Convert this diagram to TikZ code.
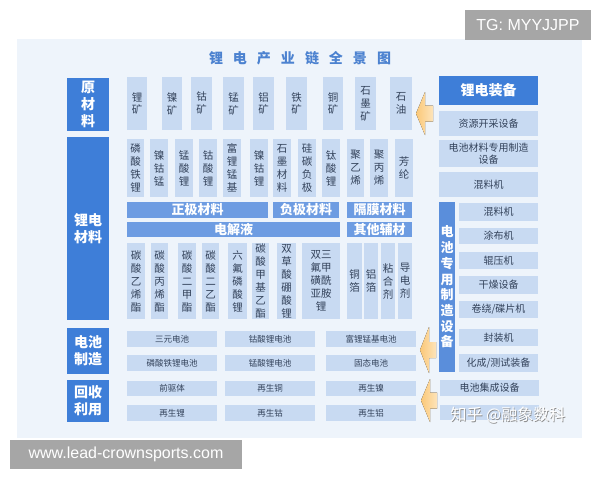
\documentclass[tikz,border=0pt]{standalone}
\usepackage{fontspec}
\setmainfont{Noto Sans CJK SC}
\newfontfamily\latf{Liberation Sans}
\definecolor{panel}{HTML}{EEF4FB}
\definecolor{dkb}{HTML}{3E7ED8}
\definecolor{mdb}{HTML}{6D9CE2}
\definecolor{vtb}{HTML}{5A8EDB}
\definecolor{ltb}{HTML}{C8DAF2}
\definecolor{txt}{HTML}{33425A}
\definecolor{ttl}{HTML}{4C82D0}
\definecolor{grayb}{HTML}{A6A6A6}
\definecolor{arr}{HTML}{FBC878}
\definecolor{arrl}{HTML}{FDE4BA}
\newcommand\bx[7]{\node[#5, minimum width={(#3-#1)*1pt}, minimum height={(#4-#2)*1pt}] (#7) at ({(#1+#3)/2},{(#2+#4)/2}) {#6};}
\newcommand\larrow[4]{\fill[left color=arr, right color=arrl] (#1,{(#3+#4)/2}) -- ({#1+9},#3) -- ({#1+9},{(#3+#4)/2-8}) -- (#2,{(#3+#4)/2-8}) -- (#2,{(#3+#4)/2+8}) -- ({#1+9},{(#3+#4)/2+8}) -- ({#1+9},#4) -- cycle;}
\tikzset{
 base/.style={inner sep=0pt, outer sep=0pt, align=center, rectangle},
 dark/.style={base, fill=dkb, text=white, font=\bfseries\fontsize{14}{17}\selectfont},
 lite/.style={base, fill=ltb, text=txt, font=\fontsize{10.5}{13}\selectfont},
 liteh/.style={base, fill=ltb, text=txt, font=\fontsize{10}{12.5}\selectfont},
 lites/.style={base, fill=ltb, text=txt, font=\fontsize{8.5}{10}\selectfont},
 bar/.style={base, fill=mdb, text=white, font=\bfseries\fontsize{13}{15}\selectfont},
 vbar/.style={base, fill=vtb, text=white, font=\bfseries\fontsize{13}{15.7}\selectfont},
 grey/.style={base, fill=grayb, text=white, font=\latf\fontsize{16}{18}\selectfont},
}
\begin{document}
\begin{tikzpicture}[x=1pt,y=-1pt]
\useasboundingbox (0,0) rectangle (600,480);
\fill[white] (0,0) rectangle (600,480);
\fill[panel] (17,39) rectangle (582,438);
\node[base, text=ttl, font=\bfseries\fontsize{14}{16}\selectfont] (title) at (300,58) {锂\hspace{10pt}电\hspace{10pt}产\hspace{10pt}业\hspace{10pt}链\hspace{10pt}全\hspace{10pt}景\hspace{10pt}图};
% left categories
\bx{67}{78}{109}{131}{dark}{原\\材\\料}{c1}
\bx{67}{137}{109}{320}{dark}{锂电\\材料}{c2}
\bx{67}{328}{109}{374}{dark}{电池\\制造}{c3}
\bx{67}{380}{109}{422}{dark}{回收\\利用}{c4}
% raw materials
\bx{127}{77}{147}{130}{lite}{锂\\矿}{r1}
\bx{162}{77}{182}{130}{lite}{镍\\矿}{r2}
\bx{191}{77}{212}{130}{lite}{钴\\矿}{r3}
\bx{223}{77}{244}{130}{lite}{锰\\矿}{r4}
\bx{253}{77}{274}{130}{lite}{铝\\矿}{r5}
\bx{286}{77}{307}{130}{lite}{铁\\矿}{r6}
\bx{323}{77}{343}{130}{lite}{铜\\矿}{r7}
\bx{355}{77}{376}{130}{lite}{石\\墨\\矿}{r8}
\bx{390}{77}{412}{130}{lite}{石\\油}{r9}
% materials row
\bx{127}{139}{144}{197}{lite}{磷\\酸\\铁\\锂}{m1}
\bx{150}{139}{168}{197}{lite}{镍\\钴\\锰}{m2}
\bx{175}{139}{193}{197}{lite}{锰\\酸\\锂}{m3}
\bx{199}{139}{217}{197}{lite}{钴\\酸\\锂}{m4}
\bx{223}{139}{241}{197}{lite}{富\\锂\\锰\\基}{m5}
\bx{250}{139}{268}{197}{lite}{镍\\钴\\锂}{m6}
\bx{273}{139}{291}{197}{lite}{石\\墨\\材\\料}{m7}
\bx{298}{139}{316}{197}{lite}{硅\\碳\\负\\极}{m8}
\bx{322}{139}{340}{197}{lite}{钛\\酸\\锂}{m9}
\bx{347}{139}{364}{197}{lite}{聚\\乙\\烯}{m10}
\bx{370}{139}{388}{197}{lite}{聚\\丙\\烯}{m11}
\bx{395}{139}{413}{197}{lite}{芳\\纶}{m12}
% bars
\bx{127}{202}{268}{218}{bar}{正极材料}{b1}
\bx{273}{202}{339}{218}{bar}{负极材料}{b2}
\bx{347}{202}{412}{218}{bar}{隔膜材料}{b3}
\bx{127}{222}{340}{237}{bar}{电解液}{b4}
\bx{347}{222}{412}{237}{bar}{其他辅材}{b5}
% electrolyte row
\bx{127}{243}{145}{319}{lite}{碳\\酸\\乙\\烯\\酯}{e1}
\bx{151}{243}{168}{319}{lite}{碳\\酸\\丙\\烯\\酯}{e2}
\bx{178}{243}{196}{319}{lite}{碳\\酸\\二\\甲\\酯}{e3}
\bx{202}{243}{219}{319}{lite}{碳\\酸\\二\\乙\\酯}{e4}
\bx{228}{243}{247}{319}{lite}{六\\氟\\磷\\酸\\锂}{e5}
\bx{252}{243}{269}{319}{lite}{碳\\酸\\甲\\基\\乙\\酯}{e6}
\bx{277}{243}{296}{319}{lite}{双\\草\\酸\\硼\\酸\\锂}{e7}
\bx{302}{243}{340}{319}{lite}{双三\\氟甲\\磺酰\\亚胺\\锂}{e8}
\bx{347}{243}{362}{319}{lite}{铜\\箔}{e9}
\bx{364}{243}{378}{319}{lite}{铝\\箔}{e10}
\bx{381}{243}{395}{319}{lite}{粘\\合\\剂}{e11}
\bx{398}{243}{412}{319}{lite}{导\\电\\剂}{e12}
% battery manufacturing / recycling
\bx{127}{331}{217}{347}{lites}{三元电池}{p1}
\bx{225}{331}{315}{347}{lites}{钴酸锂电池}{p2}
\bx{326}{331}{416}{347}{lites}{富锂锰基电池}{p3}
\bx{127}{355}{217}{371}{lites}{磷酸铁锂电池}{p4}
\bx{225}{355}{315}{371}{lites}{锰酸锂电池}{p5}
\bx{326}{355}{416}{371}{lites}{固态电池}{p6}
\bx{127}{381}{217}{396}{lites}{前驱体}{q1}
\bx{225}{381}{315}{396}{lites}{再生铜}{q2}
\bx{326}{381}{416}{396}{lites}{再生镍}{q3}
\bx{127}{405}{217}{421}{lites}{再生锂}{q4}
\bx{225}{405}{315}{421}{lites}{再生钴}{q5}
\bx{326}{405}{416}{421}{lites}{再生铝}{q6}
% right equipment column
\bx{439}{76}{538}{105}{dark}{锂电装备}{k0}
\bx{439}{111}{538}{136}{liteh}{资源开采设备}{k1}
\bx{439}{140}{538}{167}{liteh}{电池材料专用制造\\设备}{k2}
\bx{439}{172}{538}{197}{liteh}{混料机}{k3}
\bx{439}{202}{455}{372}{vbar}{电\\池\\专\\用\\制\\造\\设\\备}{kv}
\bx{459}{203}{538}{221}{liteh}{混料机}{s1}
\bx{459}{228}{538}{244}{liteh}{涂布机}{s2}
\bx{459}{252}{538}{269}{liteh}{辊压机}{s3}
\bx{459}{276}{538}{294}{liteh}{干燥设备}{s4}
\bx{459}{301}{538}{318}{liteh}{卷绕/碟片机}{s5}
\bx{459}{329}{538}{346}{liteh}{封装机}{s6}
\bx{459}{354}{538}{372}{liteh}{化成/测试装备}{s7}
\bx{440}{380}{539}{396}{liteh}{电池集成设备}{s8}
\bx{440}{405}{539}{420}{liteh}{}{s9}
% arrows
\larrow{416}{433}{92}{135}
\larrow{420}{436}{327}{373}
\larrow{421}{437}{379}{422}
% watermarks
\node[base, text=black!45, font=\fontsize{16}{18}\selectfont] (wms) at (508.7,415.7) {知乎 @融象数科};
\node[base, text=white, font=\fontsize{16}{18}\selectfont] (wm) at (508,415) {知乎 @融象数科};
\bx{465}{10}{591}{40}{grey}{TG: MYYJJPP}{tg}
\bx{10}{440}{242}{469}{grey}{www.lead-crownsports.com}{url}
\end{tikzpicture}
\end{document}
